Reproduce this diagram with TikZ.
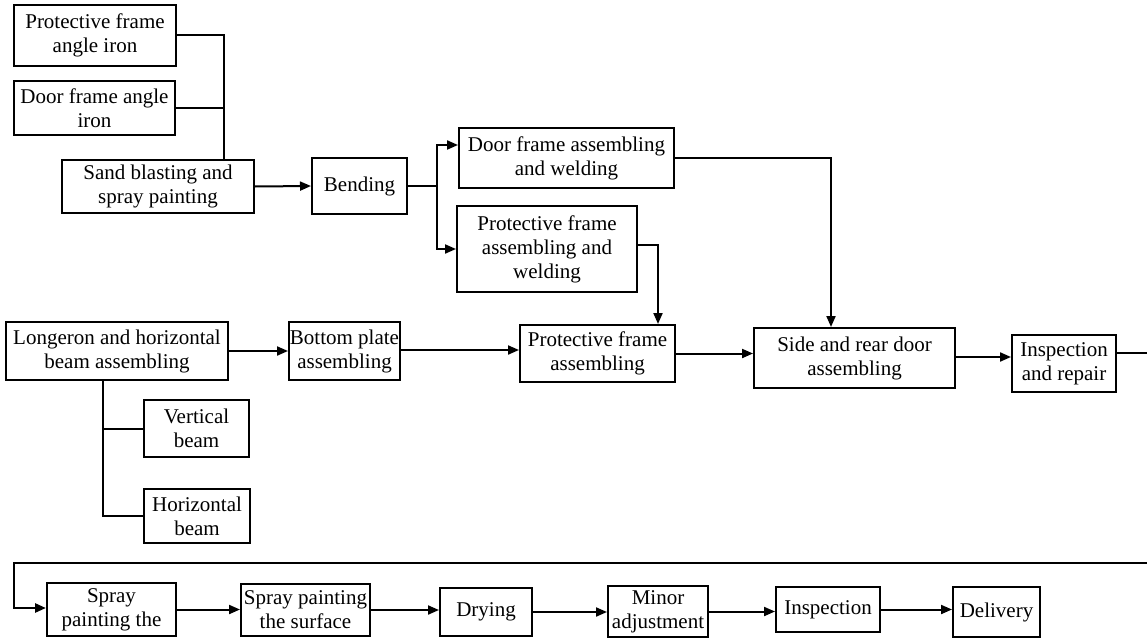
\documentclass[tikz,border=0pt]{standalone}
\usepackage{fontspec}
\setmainfont{Liberation Serif}
\usetikzlibrary{arrows.meta,calc}
\begin{document}
\begin{tikzpicture}[x=1pt,y=-1pt,
  box/.style={draw,line width=2pt,inner sep=0pt,align=center,font=\fontsize{21}{24}\selectfont},
  conn/.style={line width=2pt},
  arr/.style={conn,-{Triangle[length=11pt,width=9pt]}}]
\clip (0,0) rectangle (1147,639);
\fill[white] (0,0) rectangle (1147,639);
% top-left
\node[box,minimum width=162pt,minimum height=61pt] (pfai) at (95,35.5) {Protective frame\\angle iron};
\node[box,minimum width=161pt,minimum height=54pt] (dfai) at (94.5,108) {Door frame angle\\iron};
\node[box,minimum width=192pt,minimum height=53pt] (sand) at (158,186.5) {Sand blasting and\\spray painting};
\node[box,minimum width=95pt,minimum height=56pt] (bend) at (359.5,186) {Bending};
\node[box,minimum width=215pt,minimum height=60pt] (dfaw) at (566.5,158) {Door frame assembling\\and welding};
\node[box,minimum width=180pt,minimum height=86pt] (pfaw) at (547,249) {Protective frame\\assembling and\\welding};
% middle row
\node[box,minimum width=222pt,minimum height=58pt] (long) at (117,351) {Longeron and horizontal\\beam assembling};
\node[box,minimum width=111pt,minimum height=58pt] (bpa) at (344.5,351) {Bottom plate\\assembling};
\node[box,minimum width=155pt,minimum height=57pt] (pfa) at (597.5,353.5) {Protective frame\\assembling};
\node[box,minimum width=201pt,minimum height=60pt] (sra) at (854.5,358) {Side and rear door\\assembling};
\node[box,minimum width=104pt,minimum height=57pt] (ir) at (1064,363.5) {Inspection\\and repair};
\node[box,minimum width=105pt,minimum height=57pt] (vb) at (196.5,428.5) {Vertical\\beam};
\node[box,minimum width=106pt,minimum height=54pt] (hb) at (197,516) {Horizontal\\beam};
% bottom row
\node[box,minimum width=129pt,minimum height=53pt] (sp1) at (111.5,609.5) {Spray\\painting the};
\node[box,minimum width=129pt,minimum height=52pt] (sp2) at (305.5,610) {Spray painting\\the surface};
\node[box,minimum width=92pt,minimum height=48pt] (dry) at (486,612) {Drying};
\node[box,minimum width=100pt,minimum height=51pt] (minor) at (658,611.5) {Minor\\adjustment};
\node[box,minimum width=104pt,minimum height=45pt] (insp) at (828,609.5) {Inspection};
\node[box,minimum width=87pt,minimum height=50pt] (deliv) at (996.5,612) {Delivery};
% helper coordinates
\coordinate (jx) at (224,0);
\coordinate (bx) at (437,0);
\coordinate (lx) at (103,0);
\coordinate (rx) at (1152,0);
\coordinate (ly) at (0,563);
\coordinate (lfx) at (14,0);
% connectors
\draw[conn] (pfai.east) -| (jx |- sand.north);
\draw[conn] (dfai.east) -- (jx |- dfai.east);
\draw[arr] (sand.east) -- (bend.west);
\draw[conn] (bend.east) -- (bx |- bend.east);
\draw[arr] (bx |- bend.east) |- ($(dfaw.west)+(0,-13)$);
\draw[arr] (bx |- bend.east) |- (pfaw.west);
\draw[arr] (dfaw.east) -| (831,0 |- sra.north);
\draw[arr] ($(pfaw.east)+(0,-4)$) -| (658,0 |- pfa.north);
\draw[arr] (long.east) -- (bpa.west);
\draw[arr] ($(bpa.east)+(0,-1)$) -- ($(pfa.west)+(0,-3.5)$);
\draw[arr] (pfa.east) -- (sra.west |- pfa.east);
\draw[arr] ($(sra.east)+(0,-1)$) -- (ir.west |- 0,357);
\draw[conn] ($(ir.east)+(0,-11)$) -| (rx |- ly) -- (lfx |- ly);
\draw[conn] (lx |- long.south) |- (hb.west);
\draw[conn] (lx |- vb.west) -- (vb.west);
\draw[arr,line width=2.6pt] (rx |- ly) -- (lfx |- ly) |- ($(sp1.west)+(0,-1.5)$);
\draw[arr] (sp1.east) -- (sp2.west |- sp1.east);
\draw[arr] (sp2.east) -- (dry.west |- sp2.east);
\draw[arr] (dry.east) -- (minor.west |- dry.east);
\draw[arr] (minor.east) -- (insp.west |- minor.east);
\draw[arr] (insp.east) -- (deliv.west |- insp.east);
\end{tikzpicture}
\end{document}
